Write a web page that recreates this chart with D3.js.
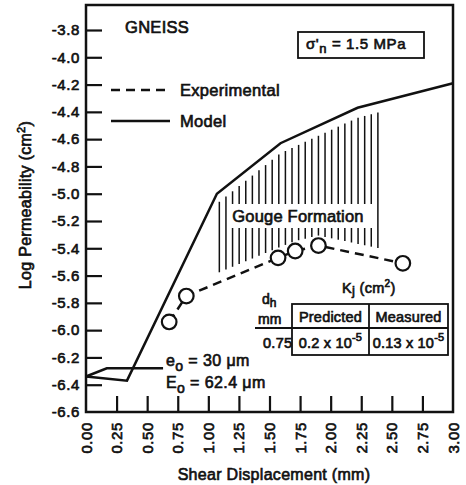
<!DOCTYPE html>
<html>
<head>
<meta charset="utf-8">
<script src="https://cdn.jsdelivr.net/npm/d3@7"></script>
<style>
  body { margin: 0; background: #fff; }
  svg { display: block; }
  text { font-family: "Liberation Sans", Arial, Helvetica, sans-serif; fill: #111; }
</style>
</head>
<body>
<svg id="chart" width="466" height="485"></svg>
<script>
// Model curve: shear displacement (mm) vs log permeability (cm^2)
const modelDisp = [0, 0.335, 1.07, 1.59, 2.22, 3.0];
const modelLogK = [-6.34, -6.37, -5.0, -4.63, -4.37, -4.19];

// Experimental measurements
const expDisp = [0.68, 0.82, 1.57, 1.71, 1.90, 2.59];
const expLogK = [-5.94, -5.75, -5.47, -5.42, -5.38, -5.51];

// Leader from the initial-aperture note back to the start of the curves
const leaderDisp = [0, 0.17, 0.63];
const leaderLogK = [-6.34, -6.28, -6.28];

// Displacement span of the gouge-formation zone
const gougeStart = 1.09;
const gougeEnd = 2.39;
const gougeStep = 0.054;

// Axis ticks
const xTicks = [0, 0.25, 0.5, 0.75, 1.0, 1.25, 1.5, 1.75, 2.0, 2.25, 2.5, 2.75, 3.0];
const xTickLabels = ["0.00", "0.25", "0.50", "0.75", "1.00", "1.25", "1.50", "1.75", "2.00", "2.25", "2.50", "2.75", "3.00"];
const yTicks = [-3.8, -4.0, -4.2, -4.4, -4.6, -4.8, -5.0, -5.2, -5.4, -5.6, -5.8, -6.0, -6.2, -6.4, -6.6];
const yTickLabels = ["-3.8", "-4.0", "-4.2", "-4.4", "-4.6", "-4.8", "-5.0", "-5.2", "-5.4", "-5.6", "-5.8", "-6.0", "-6.2", "-6.4", "-6.6"];

// Layout
const box = { left: 86, right: 453, top: 5, bottom: 412 };
const ink = "#111";
const lw = 2.5;

const svg = d3.select("#chart");

const x = d3.scaleLinear().domain([0, 3]).range([box.left, box.right]);
const y = d3.scaleLinear().domain([-6.6, -3.8]).range([box.bottom, 30]);

// piecewise interpolators along each curve
const modelAt = d3.scaleLinear().domain(modelDisp).range(modelLogK);
const expAt = d3.scaleLinear().domain(expDisp).range(expLogK);

const textStyle = sel => sel.attr("stroke", ink).attr("stroke-width", 0.65).attr("fill", ink);

// ---- axes ----
const yAxis = d3.axisLeft(y)
  .tickValues(yTicks)
  .tickFormat((d, i) => yTickLabels[i])
  .tickSize(-16)
  .tickPadding(6);
const gy = svg.append("g").attr("transform", `translate(${box.left},0)`).call(yAxis);
gy.select(".domain").remove();
gy.selectAll(".tick line").attr("stroke", ink).attr("stroke-width", 2.2);
gy.selectAll(".tick").filter(d => d === -6.6).select("line").remove();
gy.selectAll(".tick text")
  .attr("font-size", 15).attr("letter-spacing", 0.6)
  .call(textStyle);

const xAxis = d3.axisBottom(x)
  .tickValues(xTicks)
  .tickFormat((d, i) => xTickLabels[i])
  .tickSize(-16);
const gx = svg.append("g").attr("transform", `translate(0,${box.bottom})`).call(xAxis);
gx.select(".domain").remove();
gx.selectAll(".tick line").attr("stroke", ink).attr("stroke-width", 2.2);
gx.selectAll(".tick").filter(d => d === 0 || d === 3).select("line").remove();
gx.selectAll(".tick text")
  .attr("transform", "rotate(-90)")
  .attr("x", -10).attr("y", 5).attr("dy", 0)
  .attr("text-anchor", "end")
  .attr("font-size", 15).attr("letter-spacing", 0.6)
  .call(textStyle);

// frame
svg.append("rect")
  .attr("x", box.left).attr("y", box.top)
  .attr("width", box.right - box.left).attr("height", box.bottom - box.top)
  .attr("fill", "none").attr("stroke", ink).attr("stroke-width", lw);

// axis titles
svg.append("text")
  .attr("x", 274).attr("y", 480).attr("text-anchor", "middle")
  .attr("font-size", 16).attr("letter-spacing", 0.3)
  .text("Shear Displacement (mm)").call(textStyle);

const yt = svg.append("text")
  .attr("transform", "translate(31,205) rotate(-90)")
  .attr("text-anchor", "middle")
  .attr("font-size", 16).attr("letter-spacing", 0.3)
  .call(textStyle);
yt.append("tspan").text("Log Permeability (cm");
yt.append("tspan").attr("dy", -6).attr("font-size", 11).text("2");
yt.append("tspan").attr("dy", 6).text(")");

// ---- gouge formation hatching ----
const hatchX = d3.range(gougeStart, gougeEnd + 1e-9, gougeStep);
svg.append("g").selectAll("line").data(hatchX).join("line")
  .attr("x1", d => x(d)).attr("x2", d => x(d))
  .attr("y1", d => y(modelAt(d)) + 10)
  .attr("y2", d => y(expAt(d)) - 10)
  .attr("stroke", ink).attr("stroke-width", 1.5);

svg.append("rect")
  .attr("x", 228).attr("y", 204).attr("width", 144).attr("height", 24)
  .attr("fill", "#fff");
svg.append("text")
  .attr("x", 298).attr("y", 222).attr("text-anchor", "middle")
  .attr("font-size", 16.5).attr("letter-spacing", 0.2)
  .text("Gouge Formation").call(textStyle);

// ---- curves ----
const line = d3.line().x(d => x(d[0])).y(d => y(d[1]));

svg.append("path")
  .datum(leaderDisp.map((d, i) => [d, leaderLogK[i]]))
  .attr("d", line).attr("fill", "none")
  .attr("stroke", ink).attr("stroke-width", lw);

svg.append("path")
  .datum(modelDisp.map((d, i) => [d, modelLogK[i]]))
  .attr("d", line).attr("fill", "none")
  .attr("stroke", ink).attr("stroke-width", lw).attr("stroke-linejoin", "miter");

svg.append("path")
  .datum(expDisp.map((d, i) => [d, expLogK[i]]))
  .attr("d", line).attr("fill", "none")
  .attr("stroke", ink).attr("stroke-width", lw).attr("stroke-dasharray", "9,6");

svg.append("g").selectAll("circle").data(expDisp).join("circle")
  .attr("cx", d => x(d)).attr("cy", (d, i) => y(expLogK[i]))
  .attr("r", 7.3)
  .attr("fill", "#fff").attr("stroke", ink).attr("stroke-width", 2.2);

// ---- title and legend ----
svg.append("text").attr("x", 125).attr("y", 33)
  .attr("font-size", 16.5).attr("letter-spacing", 0.3)
  .text("GNEISS").call(textStyle);

svg.append("line").attr("x1", 111).attr("x2", 167).attr("y1", 90).attr("y2", 90)
  .attr("stroke", ink).attr("stroke-width", lw).attr("stroke-dasharray", "9,6");
svg.append("text").attr("x", 180).attr("y", 96)
  .attr("font-size", 16.5).attr("letter-spacing", 0.3)
  .text("Experimental").call(textStyle);

svg.append("line").attr("x1", 111).attr("x2", 170).attr("y1", 121).attr("y2", 121)
  .attr("stroke", ink).attr("stroke-width", lw);
svg.append("text").attr("x", 180).attr("y", 127)
  .attr("font-size", 16.5).attr("letter-spacing", 0.3)
  .text("Model").call(textStyle);

// normal stress note
svg.append("rect").attr("x", 298).attr("y", 32).attr("width", 126).attr("height", 26)
  .attr("fill", "#fff").attr("stroke", ink).attr("stroke-width", 1.8);
const sn = svg.append("text").attr("x", 306).attr("y", 49)
  .attr("font-size", 15).attr("letter-spacing", 0.6).call(textStyle);
sn.append("tspan").text("σ'");
sn.append("tspan").attr("dy", 4).attr("font-size", 13).text("n");
sn.append("tspan").attr("dy", -4).text(" = 1.5 MPa");

// initial aperture note
const e0 = svg.append("text").attr("x", 166).attr("y", 366)
  .attr("font-size", 16).attr("letter-spacing", 0.4).call(textStyle);
e0.append("tspan").text("e");
e0.append("tspan").attr("dy", 5).attr("font-size", 14).text("o");
e0.append("tspan").attr("dy", -5).text(" = 30 μm");

const E0 = svg.append("text").attr("x", 166).attr("y", 388)
  .attr("font-size", 16).attr("letter-spacing", 0.4).call(textStyle);
E0.append("tspan").text("E");
E0.append("tspan").attr("dy", 5).attr("font-size", 14).text("o");
E0.append("tspan").attr("dy", -5).text(" = 62.4 μm");

// ---- permeability table ----
const tb = { left: 292, mid: 369, right: 448, top: 304, row: 328, bottom: 355, lead: 255 };
const tg = svg.append("g").attr("stroke", ink).attr("stroke-width", 1.8).attr("fill", "none");
tg.append("rect").attr("x", tb.left).attr("y", tb.top)
  .attr("width", tb.right - tb.left).attr("height", tb.bottom - tb.top);
tg.append("line").attr("x1", tb.mid).attr("x2", tb.mid).attr("y1", tb.top).attr("y2", tb.bottom);
tg.append("line").attr("x1", tb.lead).attr("x2", tb.right).attr("y1", tb.row).attr("y2", tb.row);

const kj = svg.append("text").attr("x", 342).attr("y", 293)
  .attr("font-size", 14.5).attr("letter-spacing", 0.3).call(textStyle);
kj.append("tspan").text("K");
kj.append("tspan").attr("dy", 2).attr("font-size", 13).text("j");
kj.append("tspan").attr("dy", -2).text(" (cm");
kj.append("tspan").attr("dy", -6).attr("font-size", 10).text("2");
kj.append("tspan").attr("dy", 6).text(")");

const dh = svg.append("text").attr("x", 262).attr("y", 304)
  .attr("font-size", 14).call(textStyle);
dh.append("tspan").text("d");
dh.append("tspan").attr("dy", 3).attr("font-size", 12).text("h");

svg.append("text").attr("x", 258).attr("y", 324).attr("font-size", 14)
  .text("mm").call(textStyle);

const cellMid1 = (tb.left + tb.mid) / 2;
const cellMid2 = (tb.mid + tb.right) / 2;
svg.append("text").attr("x", cellMid1).attr("y", 322).attr("text-anchor", "middle")
  .attr("font-size", 14.5).attr("letter-spacing", 0.2).text("Predicted").call(textStyle);
svg.append("text").attr("x", cellMid2).attr("y", 322).attr("text-anchor", "middle")
  .attr("font-size", 14.5).attr("letter-spacing", 0.2).text("Measured").call(textStyle);

svg.append("text").attr("x", 263).attr("y", 348).attr("font-size", 14.5)
  .attr("letter-spacing", 0.3).text("0.75").call(textStyle);

function sciCell(cx, mant) {
  const t = svg.append("text").attr("x", cx).attr("y", 348).attr("text-anchor", "middle")
    .attr("font-size", 14.5).attr("letter-spacing", 0.2).call(textStyle);
  t.append("tspan").text(mant + " x 10");
  t.append("tspan").attr("dy", -7).attr("font-size", 11).text("-5");
}
sciCell(cellMid1, "0.2");
sciCell(cellMid2, "0.13");
</script>
</body>
</html>
